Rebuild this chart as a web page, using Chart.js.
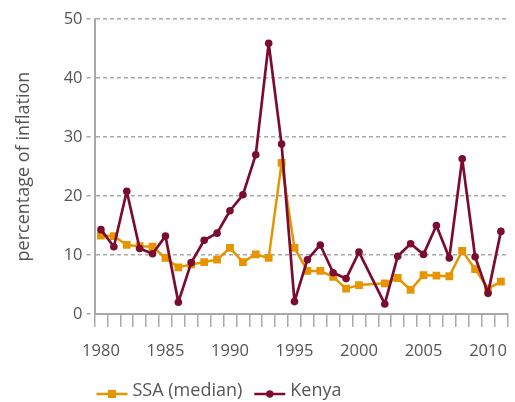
<!DOCTYPE html>
<html>
<head>
<meta charset="utf-8">
<script src="https://cdn.jsdelivr.net/npm/chart.js@4.4.1/dist/chart.umd.min.js"></script>
<style>
    html, body { margin: 0; padding: 0; background: #fff; }
</style>
</head>
<body>
<canvas id="myChart" width="515" height="402"></canvas>
<script>
    // data
    const years = ['1980', '1981', '1982', '1983', '1984', '1985', '1986', '1987', '1988', '1989',
        '1990', '1991', '1992', '1993', '1994', '1995', '1996', '1997', '1998', '1999',
        '2000', '2001', '2002', '2003', '2004', '2005', '2006', '2007', '2008', '2009',
        '2010', '2011'];
    const xTickLabels = ['1980', '1985', '1990', '1995', '2000', '2005', '2010'];
    const ssaMedian = [13.3, 13.2, 11.7, 11.5, 11.4, 9.5, 7.9, 8.4, 8.8, 9.2,
        11.2, 8.8, 10.1, 9.5, 25.6, 11.2, 7.3, 7.3, 6.3, 4.3,
        4.9, null, 5.2, 6.1, 4.1, 6.6, 6.5, 6.4, 10.7, 7.6,
        4.3, 5.5];
    const kenya = [14.3, 11.4, 20.8, 11.1, 10.2, 13.2, 2.0, 8.7, 12.5, 13.7,
        17.5, 20.2, 27.0, 45.9, 28.8, 2.1, 9.2, 11.7, 7.0, 6.0,
        10.5, null, 1.7, 9.8, 11.9, 10.1, 15.0, 9.5, 26.3, 9.7,
        3.5, 14.0];
    const yTicks = [0, 10, 20, 30, 40, 50];

    const ORANGE = '#E69500';
    const MAROON = '#7B0C30';
    const GREY = '#a8a8a8';
    const TEXT = '#555555';

    Chart.defaults.font.family = "'Open Sans', sans-serif";
    Chart.defaults.color = TEXT;

    // legend drawn as line + marker, like the original
    const lineLegend = {
        id: 'lineLegend',
        afterDraw(chart) {
            const ctx = chart.ctx;
            const y = chart.height - 10;
            let x = chart.chartArea.left + 2;
            ctx.save();
            ctx.font = "18px 'Open Sans', sans-serif";
            ctx.textBaseline = 'middle';
            [chart.data.datasets[0], chart.data.datasets[1]].forEach(function (ds) {
                ctx.strokeStyle = ds.borderColor;
                ctx.fillStyle = ds.borderColor;
                ctx.lineWidth = 2.5;
                ctx.beginPath();
                ctx.moveTo(x, y + 2);
                ctx.lineTo(x + 31, y + 2);
                ctx.stroke();
                if (ds.pointStyle === 'rect') {
                    ctx.fillRect(x + 11.5, y - 2, 8, 8);
                } else {
                    ctx.beginPath();
                    ctx.arc(x + 15.5, y + 2, 3.7, 0, Math.PI * 2);
                    ctx.fill();
                }
                ctx.fillStyle = TEXT;
                ctx.fillText(ds.label, x + 36, y - 1);
                x += 36 + ctx.measureText(ds.label).width + 12;
            });
            ctx.restore();
        }
    };

    let ctx = document.getElementById('myChart').getContext('2d');
    let myChart = new Chart(ctx, {
        type: 'line',
        data: {
            labels: years,
            datasets: [
                {
                    label: 'SSA (median)',
                    data: ssaMedian,
                    borderColor: ORANGE,
                    backgroundColor: ORANGE,
                    borderWidth: 2.5,
                    borderJoinStyle: 'round',
                    pointStyle: 'rect',
                    pointRadius: 5.5,
                    pointBorderWidth: 0,
                    tension: 0,
                    spanGaps: true,
                    order: 1,
                },
                {
                    label: 'Kenya',
                    data: kenya,
                    borderColor: MAROON,
                    backgroundColor: MAROON,
                    borderWidth: 2.7,
                    borderJoinStyle: 'round',
                    pointStyle: 'circle',
                    pointRadius: 3.8,
                    pointBorderWidth: 0,
                    tension: 0,
                    spanGaps: true,
                    order: 0,
                }
            ]
        },
        options: {
            responsive: false,
            animation: false,
            layout: {
                padding: { top: 19, right: 2, bottom: 40, left: 0 }
            },
            plugins: {
                legend: { display: false },
                tooltip: { enabled: false },
            },
            scales: {
                x: {
                    type: 'category',
                    offset: true,
                    grid: {
                        offset: true,
                        drawOnChartArea: false,
                        drawTicks: true,
                        tickLength: 13,
                        color: GREY,
                        lineWidth: 1.5,
                    },
                    border: { display: true, color: GREY, width: 2 },
                    ticks: {
                        autoSkip: false,
                        maxRotation: 0,
                        padding: 14,
                        color: TEXT,
                        font: { size: 16.5 },
                        callback: function (value, index) {
                            return xTickLabels.includes(years[index]) ? years[index] : '';
                        }
                    },
                    afterFit: function (scale) { scale.height = 48; }
                },
                y: {
                    min: 0,
                    max: 50,
                    afterBuildTicks: function (scale) {
                        scale.ticks = yTicks.map(function (v) { return { value: v }; });
                    },
                    grid: {
                        color: GREY,
                        lineWidth: 1.5,
                        drawTicks: true,
                        tickLength: 8,
                        tickBorderDash: [4, 4],
                    },
                    border: { display: true, color: GREY, width: 2, dash: [4, 3] },
                    ticks: {
                        padding: 4,
                        color: TEXT,
                        font: { size: 16.5 },
                    },
                    title: {
                        display: true,
                        text: 'percentage of inflation',
                        color: TEXT,
                        font: { size: 18 },
                        padding: { top: 13, bottom: 0 },
                    },
                    afterFit: function (scale) { scale.width = 94.5; }
                }
            }
        },
        plugins: [lineLegend]
    });
</script>
</body>
</html>
